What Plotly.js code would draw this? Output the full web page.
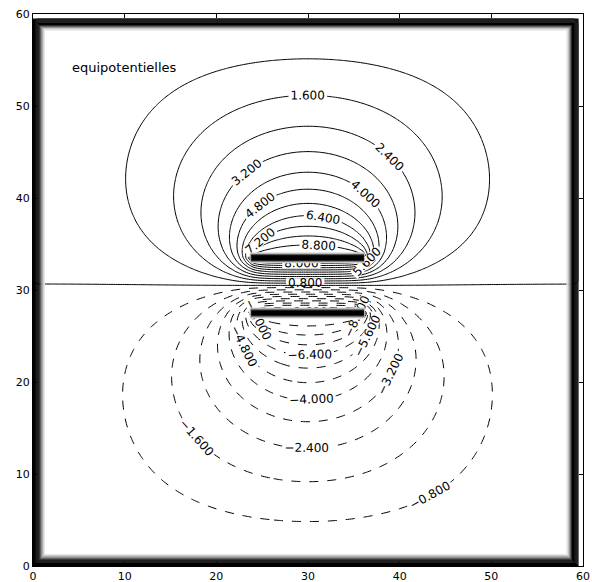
<!DOCTYPE html>
<html>
<head>
<meta charset="utf-8">
<script src="https://cdn.plot.ly/plotly-3.0.1.min.js"></script>
<style>html,body{margin:0;padding:0;background:#fff;}#chart{width:592px;height:582px;}</style>
</head>
<body>
<div id="chart"></div>
<script>
// ---- data: capacitor geometry and potentials ----
const boxSize = [59.5, 59.5];          // grounded box (x, y extents)
const gridStep = 0.5;
const plateX = [24, 36];                // x extent of both plates
const plateY = [33.5, 27.5];            // y of upper and lower plate
const plateV = [10, -10];               // plate potentials
const levelStep = 0.8;
const posLevels = [0.8, 9.6];
const negLevels = [-9.6, -0.8];
const tickVals = [0, 10, 20, 30, 40, 50, 60];
const titleText = "equipotentielles";

// ---- relaxation solve of Laplace equation ----
const nx = Math.round(boxSize[0] / gridStep) + 1;
const ny = Math.round(boxSize[1] / gridStep) + 1;
const xs = [], ys = [];
for (let i = 0; i < nx; i++) xs.push(i * gridStep);
for (let j = 0; j < ny; j++) ys.push(j * gridStep);
const V = [], fixed = [];
for (let j = 0; j < ny; j++) { V.push(new Float64Array(nx)); fixed.push(new Uint8Array(nx)); }
for (let j = 0; j < ny; j++) for (let i = 0; i < nx; i++) {
  if (i === 0 || j === 0 || i === nx - 1 || j === ny - 1) fixed[j][i] = 1;
}
const i0 = Math.round(plateX[0] / gridStep), i1 = Math.round(plateX[1] / gridStep);
for (let p = 0; p < plateY.length; p++) {
  const jp = Math.round(plateY[p] / gridStep);
  for (let i = i0; i <= i1; i++) { V[jp][i] = plateV[p]; fixed[jp][i] = 1; }
}
const omega = 1.92;
for (let it = 0; it < 3000; it++) {
  for (let j = 1; j < ny - 1; j++) {
    const r = V[j], up = V[j + 1], dn = V[j - 1], f = fixed[j];
    for (let i = 1; i < nx - 1; i++) {
      if (f[i]) continue;
      const nv = 0.25 * (r[i - 1] + r[i + 1] + up[i] + dn[i]);
      r[i] += omega * (nv - r[i]);
    }
  }
}
const Z = V.map(r => Array.from(r));

const blackScale = [[0, 'black'], [1, 'black']];
const labelFont = {family: 'DejaVu Sans', size: 12, color: 'black'};
function ctrace(lo, hi, dash) {
  return {
    type: 'contour', x: xs, y: ys, z: Z,
    autocontour: false,
    contours: {start: lo, end: hi, size: levelStep, coloring: 'lines',
               showlabels: true, labelfont: labelFont, labelformat: '.3f'},
    colorscale: blackScale, showscale: false,
    line: {width: 1, dash: dash, smoothing: 0.8},
    hoverinfo: 'skip'
  };
}
const traces = [
  ctrace(posLevels[0], posLevels[1], 'solid'),
  ctrace(negLevels[0], negLevels[1], 'dash'),
  {
    type: 'contour', x: xs, y: ys, z: Z,
    autocontour: false,
    contours: {start: 0, end: 0, size: 1, coloring: 'lines', showlabels: false},
    colorscale: blackScale, showscale: false,
    line: {width: 1, smoothing: 0.8}, hoverinfo: 'skip'
  }
];

const shapes = [];
// plates: dense smeared band of contour lines
plateY.forEach(py => {
  [[0.6, '#dcdcdc'], [0.48, '#999'], [0.38, '#444'], [0.28, '#000']].forEach(([hw, c]) => {
    shapes.push({type: 'rect', xref: 'x', yref: 'y', x0: plateX[0] - hw * 0.6, x1: plateX[1] + hw * 0.3,
                 y0: py - hw, y1: py + hw, line: {width: 0}, fillcolor: c, layer: 'above'});
  });
});
// frame: dark band along the box boundary
const bandColors = ['#000', '#000', '#000', '#000', '#000', '#000', '#000', '#222', '#555', '#888', '#aaa', '#ccc', '#e6e6e6'];
bandColors.forEach((c, k) => {
  const d = 0.05 + k * 0.1;
  shapes.push({type: 'rect', xref: 'x', yref: 'y', x0: d, x1: boxSize[0] - d, y0: d, y1: boxSize[1] - d,
               line: {color: c, width: 1.2}, layer: 'above'});
});

const axisCommon = {
  range: [0, 60], tickvals: tickVals, ticks: 'inside', ticklen: 4, tickcolor: 'black',
  showline: true, linecolor: 'black', linewidth: 1, mirror: 'ticks',
  showgrid: false, zeroline: false, tickfont: {family: 'DejaVu Sans', size: 11, color: 'black'}
};
const layout = {
  width: 592, height: 582,
  margin: {l: 33, r: 9, t: 14, b: 16},
  paper_bgcolor: 'white', plot_bgcolor: 'white',
  showlegend: false,
  xaxis: Object.assign({}, axisCommon, {ticklabelstandoff: 0}),
  yaxis: Object.assign({}, axisCommon),
  shapes: shapes,
  annotations: [{x: 4, y: 54.2, xref: 'x', yref: 'y', text: titleText, showarrow: false,
                 xanchor: 'left', yanchor: 'middle', font: {family: 'DejaVu Sans', size: 13, color: 'black'}}]
};
Plotly.newPlot('chart', traces, layout, {displayModeBar: false, staticPlot: true});
</script>
</body>
</html>
